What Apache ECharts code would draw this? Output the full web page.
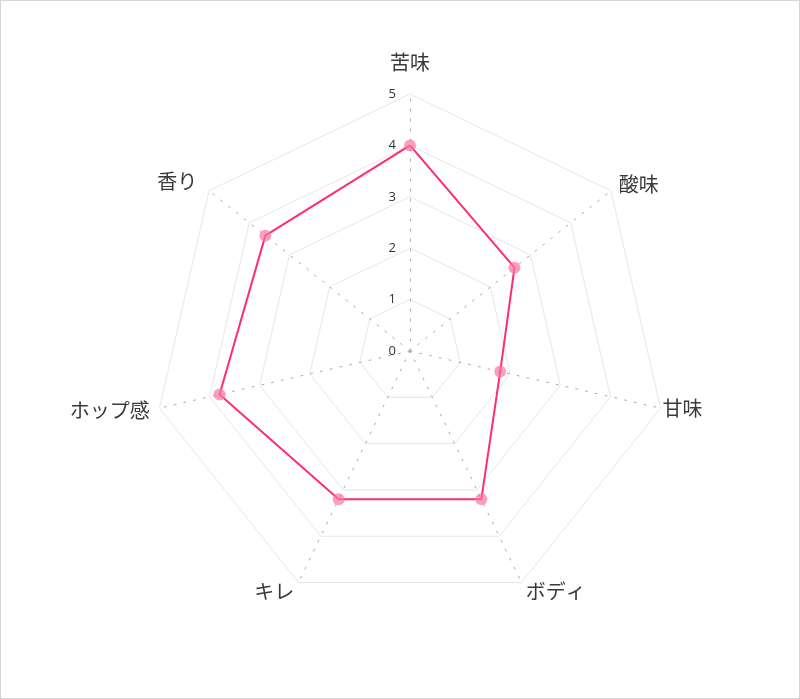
<!DOCTYPE html>
<html>
<head>
<meta charset="utf-8">
<script src="https://cdn.jsdelivr.net/npm/echarts@6/dist/echarts.min.js"></script>
<style>
html,body{margin:0;padding:0;background:#fff;}
#chart{width:800px;height:699px;box-sizing:border-box;border:1px solid #d6d6d6;}
</style>
</head>
<body>
<div id="chart"></div>
<script>
const categories = ['苦味', '酸味', '甘味', 'ボディ', 'キレ', 'ホップ感', '香り'];
const values = [4, 2.6, 1.8, 3.2, 3.2, 3.8, 3.6];
const maxValue = 5;
const tickStep = 1;

// ECharts radar runs counter-clockwise; reorder to run clockwise like the reference
const order = [0].concat(categories.map((_, i) => i).slice(1).reverse());
const nameGaps = { 0: 22, 2: 2, 5: 10, 6: 15 };

const chart = echarts.init(document.getElementById('chart'));
const indicator = order.map(i => ({
  name: categories[i], min: 0, max: maxValue,
  nameGap: nameGaps[i] !== undefined ? nameGaps[i] : 10,
  axisLabel: { show: i === 0 }
}));
chart.setOption({
  animation: false,
  radar: {
    center: [409, 350],
    radius: 257,
    startAngle: 90,
    shape: 'polygon',
    splitNumber: maxValue / tickStep,
    indicator: indicator,
    nameGap: 10,
    axisName: {
      color: '#3a3a3a',
      fontSize: 20,
      fontFamily: '"Noto Sans CJK JP", "Noto Sans", sans-serif'
    },
    axisLine: { lineStyle: { color: '#aaa', width: 1, type: [2, 8] } },
    splitLine: { lineStyle: { color: '#e6e6e6', width: 1 } },
    splitArea: { show: false },
    axisTick: { show: false },
    axisLabel: {
      show: true,
      color: '#333',
      fontSize: 13,
      fontFamily: '"Open Sans", "Noto Sans", sans-serif',
      margin: 14,
      showMinLabel: true,
      showMaxLabel: true
    }
  },
  series: [{
    type: 'radar',
    symbol: 'circle',
    symbolSize: 12,
    itemStyle: { color: 'rgba(250,120,160,0.7)' },
    lineStyle: { color: '#fe2d6c', width: 2 },
    data: [{ value: order.map(i => values[i]) }]
  }]
});
</script>
</body>
</html>
